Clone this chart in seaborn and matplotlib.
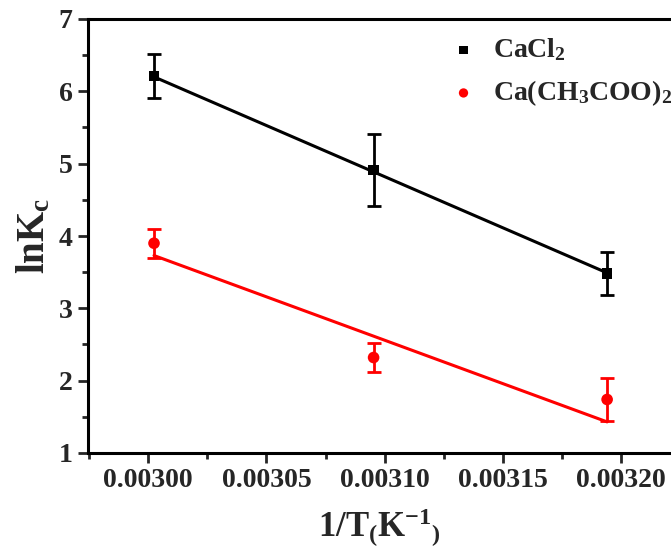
import matplotlib
matplotlib.use("Agg")
import matplotlib.pyplot as plt
from matplotlib.ticker import MultipleLocator, FormatStrFormatter
import seaborn as sns
import pandas as pd

# data
inv_T = [0.0030025, 0.0030953, 0.0031940]
cacl2_lnK = [6.21, 4.91, 3.48]
cacl2_err = [0.30, 0.50, 0.30]
acet_lnK = [3.90, 2.32, 1.74]
acet_err = [0.20, 0.20, 0.30]
fit_x = [0.0030025, 0.0031940]
cacl2_fit = [6.20, 3.49]
acet_fit = [3.73, 1.43]

sns.set_theme(style="ticks")
plt.rcParams['font.family'] = ['Liberation Serif', 'DejaVu Serif']
plt.rcParams['font.weight'] = 'bold'
plt.rcParams['mathtext.fontset'] = 'custom'
plt.rcParams['mathtext.rm'] = 'Liberation Serif:bold'
plt.rcParams['mathtext.bf'] = 'Liberation Serif:bold'
plt.rcParams['mathtext.it'] = 'Liberation Serif:bold'

fig = plt.figure(figsize=(6.71, 5.48), dpi=100)
ax = fig.add_axes([88/671, 1-453/548, 1-88/671, (453-19)/548])

df = pd.DataFrame({"x": inv_T, "cacl2": cacl2_lnK, "acet": acet_lnK})
fit = pd.DataFrame({"x": fit_x, "cacl2": cacl2_fit, "acet": acet_fit})

sns.lineplot(data=fit, x="x", y="cacl2", color="black", lw=2.2, ax=ax, legend=False)
sns.lineplot(data=fit, x="x", y="acet", color="#ff0000", lw=2.2, ax=ax, legend=False)
ax.errorbar(inv_T, cacl2_lnK, yerr=cacl2_err, fmt="none", ecolor="black",
            elinewidth=2, capsize=5, capthick=2)
ax.errorbar(inv_T, acet_lnK, yerr=acet_err, fmt="none", ecolor="#ff0000",
            elinewidth=2, capsize=5, capthick=2)
sns.scatterplot(data=df, x="x", y="cacl2", marker="s", color="black", s=55,
                edgecolor="none", ax=ax, label=r"CaCl$_2$", zorder=5)
sns.scatterplot(data=df, x="x", y="acet", marker="o", color="#ff0000", s=70,
                edgecolor="none", ax=ax, label=r"Ca(CH$_3$COO)$_2$", zorder=5)

ax.set_xlim(0.0029746, 0.003221)
ax.set_ylim(1, 7)
ax.xaxis.set_major_locator(MultipleLocator(0.00005))
ax.xaxis.set_minor_locator(MultipleLocator(0.000025))
ax.xaxis.set_major_formatter(FormatStrFormatter("%.5f"))
ax.yaxis.set_major_locator(MultipleLocator(1))
ax.yaxis.set_minor_locator(MultipleLocator(0.5))
ax.tick_params(which="major", direction="out", length=7, width=2, labelsize=20, pad=4)
ax.tick_params(which="minor", direction="out", length=4, width=2)
for lab in ax.get_xticklabels() + ax.get_yticklabels():
    lab.set_fontweight("bold")
for s in ["left", "bottom", "top"]:
    ax.spines[s].set_linewidth(2.2)
    ax.spines[s].set_color("black")
ax.spines["right"].set_visible(False)

ax.set_xlabel(r"1/T$_($K$^{-1}$$_)$", fontsize=25, fontweight="bold", labelpad=10)
ax.set_ylabel(r"lnK$_\mathbf{c}$", fontsize=28, fontweight="bold", labelpad=4)

leg = ax.legend(loc="upper left", bbox_to_anchor=(0.575, 1.018), frameon=False,
                fontsize=20, handletextpad=0.5, labelspacing=0.55,
                markerscale=0.8, handlelength=1.1)
for t in leg.get_texts():
    t.set_fontweight("bold")

fig.savefig("out.png", dpi=100)
